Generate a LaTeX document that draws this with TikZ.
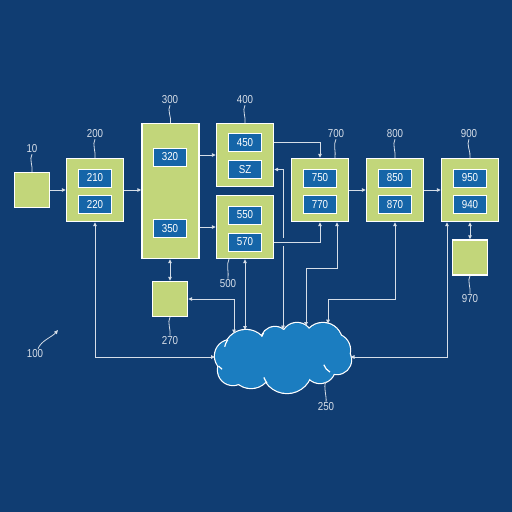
\documentclass[tikz,border=0pt]{standalone}
\usepackage{fontspec}
\setmainfont{Liberation Sans}[FakeStretch=0.85]
\usetikzlibrary{arrows.meta,calc}

\definecolor{bgblue}{RGB}{16,61,114}
\definecolor{boxgreen}{RGB}{194,214,122}
\definecolor{innerblue}{RGB}{21,101,168}
\definecolor{cloudblue}{RGB}{27,125,192}
\definecolor{linegray}{RGB}{214,222,232}

\tikzset{
  unit/.style={draw=white, line width=1.4pt, fill=boxgreen, minimum width=57pt, minimum height=63pt, inner sep=0pt},
  sq/.style={unit, minimum width=35pt, minimum height=35pt},
  sub/.style={draw=white, line width=1pt, fill=innerblue, text=white, minimum width=33pt, minimum height=18pt, inner sep=0pt},
  ref/.style={text=linegray, inner sep=1pt},
  wire/.style={draw=linegray, line width=0.9pt},
  link/.style={wire, -{Triangle[length=4pt,width=3.5pt]}},
  duplex/.style={wire, {Triangle[length=4pt,width=3.5pt]}-{Triangle[length=4pt,width=3.5pt]}},
  squig/.style={draw=linegray, line width=0.8pt},
  crease/.style={draw=white, line width=1.2pt}
}

\begin{document}
\begin{tikzpicture}[x=1pt, y=-1pt, font=\fontsize{11.5}{13}\selectfont]
\fill[bgblue] (0,0) rectangle (512,512);

% units
\node[sq] (box10) at (32,190) {};
\node[unit] (box200) at (95,190) {};
\node[unit, minimum height=135pt] (box300) at (170.5,191) {};
\node[unit] (box400) at (245,155) {};
\node[unit] (box500) at (245,227) {};
\node[unit] (box700) at (320,190) {};
\node[unit] (box800) at (395,190) {};
\node[unit] (box900) at (470,190) {};
\node[sq] (box970) at (470,257.5) {};
\node[sq] (box270) at (170,299) {};

% sub-units
\node[sub] (b210) at (95,178) {210};
\node[sub] (b220) at (95,204.5) {220};
\node[sub] (b320) at (170,157) {320};
\node[sub] (b350) at (170,228.5) {350};
\node[sub] (b450) at (245,142.5) {450};
\node[sub] (bSZ) at (245,169.5) {SZ};
\node[sub] (b550) at (245,215) {550};
\node[sub] (b570) at (245,242) {570};
\node[sub] (b750) at (320,178) {750};
\node[sub] (b770) at (320,204.5) {770};
\node[sub] (b850) at (395,178) {850};
\node[sub] (b870) at (395,204.5) {870};
\node[sub] (b950) at (470,178) {950};
\node[sub] (b940) at (470,204.5) {940};

% network cloud: outline of the puffs, then their fill
\def\puffs{246/352/22, 275/341/14, 297/338/15, 323/342/19, 334/350/16, 337/360/14,
  320/368/15, 287/368/25, 251/368/20, 233/370/15, 231/356/16, 285/355/25, 310/352/20}
\foreach \cx/\cy/\r in \puffs
  \draw[white, line width=2.4pt] (\cx,\cy) circle[radius=\r];
\foreach \cx/\cy/\r in \puffs
  \fill[cloudblue] (\cx,\cy) circle[radius=\r];
% creases where puffs overlap
\foreach \cx/\cy/\r/\a/\b in {231/356/16/141/124, 246/352/22/214/194, 275/341/14/216/198,
  337/360/14/120/160, 287/368/25/143/158}
  \draw[crease] (\cx,\cy) ++(\a:\r) arc[start angle=\a, end angle=\b, radius=\r];
\coordinate (k270) at (234,333.5);
\coordinate (k500) at (245,330);
\coordinate (kSZ) at (283,329.5);
\coordinate (k700) at (306,326);
\coordinate (k800) at (328,323.7);
\coordinate (kW) at (215,357);
\coordinate (kE) at (350.5,357);
\coordinate (k250) at (326,381.7);

% signal path
\draw[link] (box10.east) -- (box200.west);
\draw[link] (box200.east) -- (box200.east -| box300.west);
\draw[link] (box400.west -| box300.east) -- (box400.west);
\draw[link] (box500.west -| box300.east) -- (box500.west);
\draw[link] (b450 -| box400.east) -| (box700.north);
\draw[link] (box700.east) -- (box800.west);
\draw[link] (box800.east) -- (box900.west);
\draw[duplex] (box900.south) -- (box970.north);
\draw[duplex] (box270.north |- box300.south) -- (box270.north);

% links to the network
\draw[duplex] (bSZ -| box400.east) -| (kSZ);
\fill[bgblue] ($(kSZ |- b570)+(-2,-4)$) rectangle +(4,8);
\draw[link] (b570 -| box500.east) -| (box700.south);
\draw[duplex] ([xshift=17pt]box700.south) -- ++(0,46) -| (k700);
\draw[duplex] (box800.south) -- ++(0,77) -| (k800);
\draw[duplex] ([xshift=-23pt]box900.south) |- (kE);
\draw[duplex] (box200.south) |- (kW);
\draw[duplex] (box500.south) -- (k500);
\draw[duplex] (box270.east) -| (k270);

% reference numerals
\node[ref] (l10) at (32,149) {10};
\node[ref] (l200) at (95,134) {200};
\node[ref] (l300) at (170,100) {300};
\node[ref] (l400) at (245,100) {400};
\node[ref] (l700) at (336,134) {700};
\node[ref] (l800) at (395,134) {800};
\node[ref] (l900) at (469,134) {900};
\node[ref] (l500) at (228,284) {500};
\node[ref] (l270) at (170,341) {270};
\node[ref] (l970) at (470,299) {970};
\node[ref] (l250) at (326,407) {250};
\node[ref] (l100) at (35,354) {100};
\coordinate (t100) at (58,330);

\draw[squig] (l10.south) .. controls +(-3,5) and +(1,-6) .. (box10.north);
\draw[squig] (l200.south) .. controls +(-3,5) and +(1,-6) .. (box200.north);
\draw[squig] (l300.south) .. controls +(-3,5) and +(1,-6) .. (box300.north);
\draw[squig] (l400.south) .. controls +(-3,5) and +(1,-6) .. (box400.north);
\draw[squig] (l700.south) .. controls +(-3,5) and +(1,-6) .. ([xshift=15pt]box700.north);
\draw[squig] (l800.south) .. controls +(-3,5) and +(1,-6) .. (box800.north);
\draw[squig] (l900.south) .. controls +(-3,5) and +(1,-6) .. (box900.north);
\draw[squig] ([xshift=-16pt]box500.south) .. controls +(-3,5) and +(1,-6) .. (l500.north);
\draw[squig] (box270.south) .. controls +(-3,5) and +(1,-6) .. (l270.north);
\draw[squig] (box970.south) .. controls +(-3,5) and +(1,-6) .. (l970.north);
\draw[squig] (k250) .. controls +(-3,4) and +(1,-4) .. (l250.north);
\draw[squig, -{Triangle[length=4pt,width=3.5pt]}] ([xshift=3pt]l100.north) .. controls +(3,-8) and +(-6,7) .. (t100);
\end{tikzpicture}
\end{document}
